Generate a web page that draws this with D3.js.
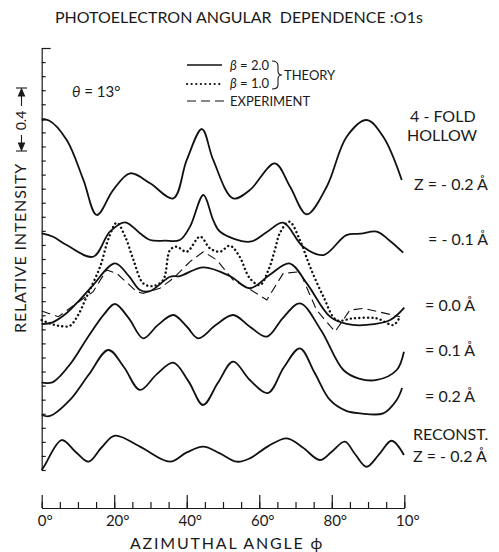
<!DOCTYPE html>
<html>
<head>
<meta charset="utf-8">
<script src="https://cdn.jsdelivr.net/npm/d3@7"></script>
<style>
body { margin: 0; background: #fff; }
svg text { font-family: Lato, "DejaVu Sans", sans-serif; fill: #1a1a1a; white-space: pre; }
</style>
</head>
<body>
<div id="chart"></div>
<script>
var W = 499, H = 552;

// [azimuthal angle (deg), relative intensity in axis-tick units]
var hollowM02 = [[0,24.88],[2,24.85],[6.9,23.46],[11.5,20.62],[15.2,18.13],[19.7,19.9],[24.4,21.09],[29.9,20.38],[36.3,19.31],[40,22.04],[44.2,24.24],[47.3,22.04],[52.8,19.31],[57.4,19.9],[64.3,21.8],[68.5,20.14],[73.1,18.18],[78.6,20.14],[84.1,23.69],[89.6,24.88],[94.2,23.69],[99.3,20.62]];
var hollowM01 = [[0,16.83],[3,16.6],[6.9,15.99],[14.2,15.16],[18.8,16.94],[23,17.61],[27.1,16.83],[29.9,16.35],[34,16.3],[38.1,16.35],[40.9,17.3],[44.6,19.55],[47.3,17.77],[49.2,16.94],[57.4,16.23],[62,16.9],[66.6,17.58],[72.1,15.87],[77.7,15.28],[84,16.7],[88,16.8],[92.4,16.95],[96,16.3],[99.7,15.45]];
var hollow00 = [[0,10.38],[3,10.5],[6.9,11.16],[10.5,12.1],[14.2,13.15],[20.2,14.69],[24,13.8],[27.1,12.8],[29.9,12.72],[35.4,13.74],[38.1,13.79],[44.6,14.41],[51.9,13.79],[57.4,12.92],[63,13.9],[68.3,14.69],[73.1,13.27],[79.5,10.9],[84.1,10.38],[89.6,10.31],[96.1,10.66],[100,11.54]];
var theoryB1 = [[0,10.66],[2.5,10.4],[5,10.24],[7.7,10.24],[10,11],[12.4,12.32],[16.1,14.45],[18.5,16.5],[20.7,17.58],[23,16.6],[25.3,14.93],[28,13.27],[30.8,13.08],[33.5,13.51],[35.4,15.64],[37.2,15.87],[40,15.52],[43.7,16.59],[46.4,15.76],[49.2,15.52],[51.9,15.95],[54.5,15.2],[57.4,13.63],[60.2,13.15],[62.5,14.2],[64.3,15.64],[65.7,16.85],[68.3,17.65],[71.2,16.35],[74,14.45],[77.7,12.32],[81.3,10.66],[85.9,10.78],[92.4,10.78],[97,10.31],[98.8,10.9]];
var experiment = [[0,11.3],[4.6,10.9],[9.6,11.85],[14.2,12.68],[17.9,14.22],[20.7,13.98],[26.2,12.68],[28,12.56],[32.6,12.92],[36.3,13.63],[40.9,14.81],[44.6,15.52],[48.3,14.93],[52.8,13.51],[57.4,12.85],[62.1,12.09],[66.6,13.98],[71.2,14.1],[75.8,11.37],[80.9,9.83],[85,11.37],[88.7,11.49],[98.8,10.9]];
var hollow01 = [[0,6.21],[3.1,6.25],[8.1,7.61],[12.8,9.48],[17.4,11.14],[20.2,11.8],[24,10.8],[28,9.36],[32,10.3],[36.3,11.02],[40,10.2],[43.2,9.36],[48,10.3],[52.8,11.02],[57.4,10.19],[62.1,9.48],[66.5,10.8],[71.2,11.85],[77,9.95],[83.2,7.11],[87.5,6.5],[92.4,6.4],[97.9,7.11],[99.9,8.41]];
var hollow02 = [[0,3.91],[2.3,3.84],[7.8,4.98],[12.9,6.75],[18.4,8.53],[22.7,7.3],[27.1,5.69],[31.7,6.8],[36.3,7.63],[40.5,6.3],[44.5,4.62],[48.6,6.2],[52.8,7.7],[57.4,6.4],[62.4,5.47],[66.8,7.3],[71.2,8.65],[75.3,6.9],[79.5,4.98],[84,4.2],[87.8,4.03],[94.2,4.03],[97.9,4.98],[99.4,5.83]];
var reconst = [[0,0],[0.9,0.36],[5.5,2.13],[9.3,1.3],[12.9,0.59],[16.5,1.6],[20.2,2.44],[27.1,1.66],[35.4,0.59],[40,1.25],[44.6,1.66],[49,1.2],[53.8,0.59],[57.4,0.83],[62.5,1.7],[67.6,2.25],[72,1.6],[76.7,0.71],[80,1.3],[83.6,2.01],[86.5,1.1],[89.6,0.23],[93,1.1],[96.5,2.08],[99.9,1.07]];

var xMajor = [0, 20, 40, 60, 80, 100];
var xTickLabels = ["0°", "20°", "40°", "60°", "80°", "10°"];
var xMinor = d3.range(0, 101, 5);
var yTicks = d3.range(0, 31, 1);
var curveLabels = [
  {t: "= - 0.1 Å", v: 16.0}, {t: "= 0.0 Å", v: 11.3},
  {t: "= 0.1 Å", v: 8.1}, {t: "= 0.2 Å", v: 4.8}
];

var svg = d3.select("#chart").append("svg")
    .attr("width", W)
    .attr("height", H);

svg.append("rect").attr("width", W).attr("height", H).attr("fill", "#fff");

var x = d3.scaleLinear().domain([0, 100]).range([41.7, 404.3]);
var y = d3.scaleLinear().domain([0, 30]).range([470, 48]);

// axes
var yAxis = svg.append("g")
    .attr("transform", "translate(" + x(0) + ",0)")
    .call(d3.axisRight(y).tickValues(yTicks).tickSize(4).tickSizeOuter(0).tickFormat(""));
yAxis.selectAll("line").filter(function (d) { return d === 30; }).attr("x2", 9);

var xAxisMinor = svg.append("g")
    .attr("transform", "translate(0,508)")
    .call(d3.axisBottom(x).tickValues(xMinor).tickSize(-6).tickSizeOuter(0).tickFormat(""));
var xAxis = svg.append("g")
    .attr("transform", "translate(0,508)")
    .call(d3.axisBottom(x).tickValues(xMajor).tickSize(-13).tickSizeOuter(0).tickPadding(7)
      .tickFormat(function (d, i) { return xTickLabels[i]; }));
xAxis.selectAll("text").attr("font-size", 15).attr("dx", 3)
    .style("font-family", "Lato, sans-serif").attr("fill", "#1a1a1a");
svg.selectAll(".domain, .tick line").attr("stroke", "#1a1a1a").attr("stroke-width", 1.2);

// curves
var smooth = d3.line()
    .x(function (d) { return x(d[0]); })
    .y(function (d) { return y(d[1]); })
    .curve(d3.curveCatmullRom.alpha(0.5));
var straight = d3.line()
    .x(function (d) { return x(d[0]); })
    .y(function (d) { return y(d[1]); });

[hollowM02, hollowM01, hollow00, hollow01, hollow02, reconst].forEach(function (s) {
  svg.append("path").attr("d", smooth(s))
    .attr("fill", "none").attr("stroke", "#111").attr("stroke-width", 1.8);
});
svg.append("path").attr("d", smooth(theoryB1))
    .attr("fill", "none").attr("stroke", "#111").attr("stroke-width", 2.4)
    .attr("stroke-linecap", "round").attr("stroke-dasharray", "0.1 4.2");
svg.append("path").attr("d", straight(experiment))
    .attr("fill", "none").attr("stroke", "#111").attr("stroke-width", 1.1)
    .attr("stroke-dasharray", "9 5");

// title and axis labels
svg.append("text").attr("x", 55).attr("y", 23).attr("font-size", 16)
    .text("PHOTOELECTRON ANGULAR  DEPENDENCE :O1s");
svg.append("text").attr("x", 227).attr("y", 549).attr("font-size", 16)
    .attr("text-anchor", "middle").attr("letter-spacing", 1.8)
    .text("AZIMUTHAL ANGLE ϕ");
svg.append("text").attr("transform", "translate(26,248) rotate(-90)")
    .attr("font-size", 16).attr("text-anchor", "middle").attr("letter-spacing", 0.8)
    .text("RELATIVE INTENSITY");

// 0.4 scale bar
var sb = svg.append("g").attr("stroke", "#1a1a1a").attr("stroke-width", 1.1);
sb.append("line").attr("x1", 16).attr("x2", 27).attr("y1", 88).attr("y2", 88);
sb.append("line").attr("x1", 16).attr("x2", 27).attr("y1", 151).attr("y2", 151);
sb.append("line").attr("x1", 21.5).attr("x2", 21.5).attr("y1", 89).attr("y2", 106);
sb.append("line").attr("x1", 21.5).attr("x2", 21.5).attr("y1", 135).attr("y2", 150);
sb.append("path").attr("d", "M18.5,96 L21.5,89 L24.5,96 Z").attr("fill", "#1a1a1a");
sb.append("path").attr("d", "M18.5,143 L21.5,150 L24.5,143 Z").attr("fill", "#1a1a1a");
svg.append("text").attr("transform", "translate(26,120.5) rotate(-90)")
    .attr("font-size", 14).attr("text-anchor", "middle").text("0.4");

svg.append("text").attr("x", 72).attr("y", 97).attr("font-size", 15)
    .html('<tspan font-style="italic">θ</tspan> = 13°');

// legend
var lg = svg.append("g");
lg.append("line").attr("x1", 187).attr("x2", 222).attr("y1", 65).attr("y2", 65)
    .attr("stroke", "#111").attr("stroke-width", 1.3);
lg.append("line").attr("x1", 187).attr("x2", 222).attr("y1", 84).attr("y2", 84)
    .attr("stroke", "#111").attr("stroke-width", 2.2).attr("stroke-linecap", "round")
    .attr("stroke-dasharray", "0.1 4.5");
lg.append("line").attr("x1", 187).attr("x2", 224).attr("y1", 101).attr("y2", 101)
    .attr("stroke", "#111").attr("stroke-width", 1.1).attr("stroke-dasharray", "9 5");
lg.append("text").attr("x", 230).attr("y", 70).attr("font-size", 13)
    .html('<tspan font-style="italic">β</tspan> = 2.0');
lg.append("text").attr("x", 230).attr("y", 88).attr("font-size", 13)
    .html('<tspan font-style="italic">β</tspan> = 1.0');
lg.append("text").attr("x", 230).attr("y", 106).attr("font-size", 13).text("EXPERIMENT");
lg.append("path").attr("d", "M272,61 Q278,61 278,66 L278,71 Q278,75 282,75 Q278,75 278,79 L278,85 Q278,89 272,89")
    .attr("fill", "none").attr("stroke", "#1a1a1a").attr("stroke-width", 1.1);
lg.append("text").attr("x", 284).attr("y", 80).attr("font-size", 13).text("THEORY");

// right-hand labels
var rl = svg.append("g").attr("font-size", 16);
rl.append("text").attr("x", 410).attr("y", 122).text("4 - FOLD");
rl.append("text").attr("x", 407).attr("y", 141).text("HOLLOW");
rl.append("text").attr("x", 414).attr("y", 190).text("Z = - 0.2 Å");
curveLabels.forEach(function (c, i) {
  rl.append("text").attr("x", i === 0 ? 428 : 425).attr("y", y(c.v)).text(c.t);
});
rl.append("text").attr("x", 413).attr("y", 440).text("RECONST.");
rl.append("text").attr("x", 413).attr("y", 462).text("Z = - 0.2 Å");
</script>
</body>
</html>
